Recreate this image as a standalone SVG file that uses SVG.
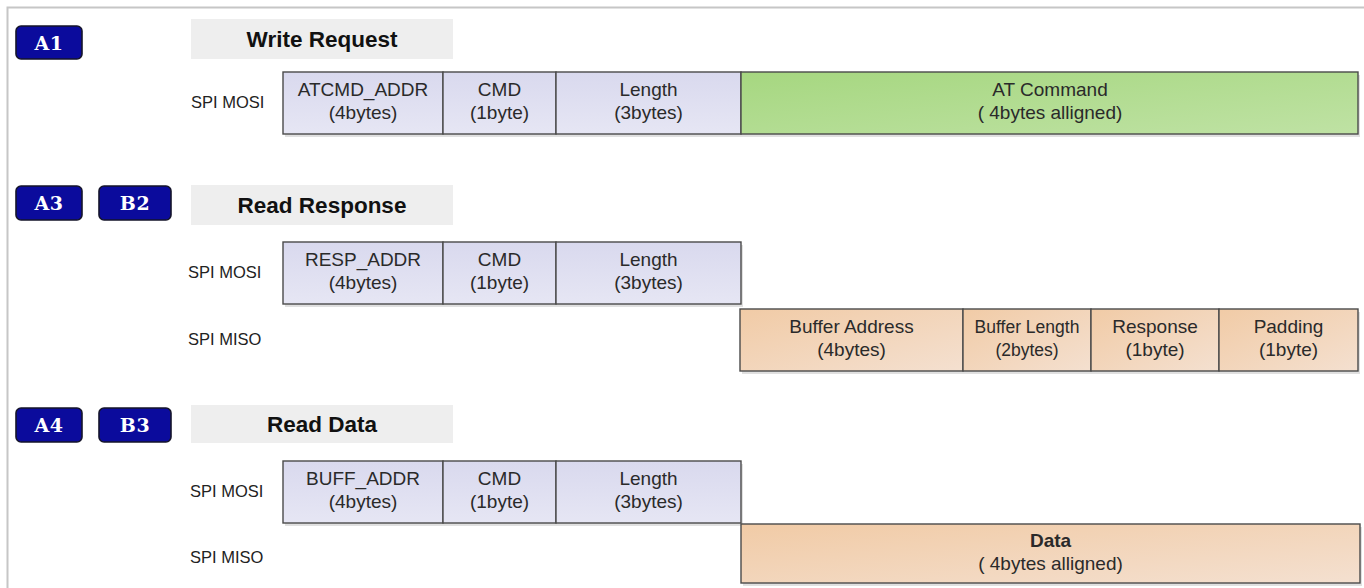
<svg xmlns="http://www.w3.org/2000/svg" width="1364" height="588" viewBox="0 0 1364 588">
  <style>
    .frame { stroke: #c6c6c6; stroke-width: 2; fill: none; }
    .badge rect { fill: #0b0b9c; stroke: #15152a; stroke-width: 1.6; }
    .badge text { font-family: "DejaVu Serif", "Liberation Serif", serif; font-weight: bold; font-size: 19px; letter-spacing: 0.5px; fill: #ffffff; text-anchor: middle; }
    .title rect { fill: #eeeeee; }
    .title text { font-family: "Liberation Sans", Arial, sans-serif; font-weight: bold; font-size: 22.5px; fill: #111111; text-anchor: middle; }
    .sig { font-family: "Liberation Sans", Arial, sans-serif; font-size: 16.5px; fill: #222222; }
    .field rect.box { stroke: #4a4a4a; stroke-width: 1.4; }
    .field rect.shadow { fill: #000000; opacity: 0.12; }
    .field text { font-family: "Liberation Sans", Arial, sans-serif; font-size: 19px; fill: #2a2a2a; text-anchor: middle; }
    .mosi { fill: url(#gMosi); }
    .green { fill: url(#gGreen); }
    .peach { fill: url(#gPeach); }
  </style>
  <defs>
    <linearGradient id="gMosi" x1="0" y1="0" x2="0" y2="1">
      <stop offset="0" stop-color="#d9d9ee"/>
      <stop offset="1" stop-color="#e6e6f4"/>
    </linearGradient>
    <linearGradient id="gGreen" x1="0" y1="0" x2="1" y2="1">
      <stop offset="0" stop-color="#a6d780"/>
      <stop offset="1" stop-color="#bfe2a4"/>
    </linearGradient>
    <linearGradient id="gPeach" x1="0" y1="0" x2="1" y2="1">
      <stop offset="0" stop-color="#f1cba6"/>
      <stop offset="1" stop-color="#f4e0d0"/>
    </linearGradient>
  </defs>

  <rect x="0" y="0" width="1364" height="588" fill="#ffffff"/>
  <!-- page frame: top and left edges -->
  <path class="frame" d="M7.5 588 V7.5 H1364"/>

  <!-- ===== Write Request ===== -->
  <g id="badge-a1" class="badge"><rect x="16" y="26" width="66" height="33" rx="5"/><text x="49" y="49.5">A1</text></g>
  <g id="title-write-request" class="title"><rect x="191" y="19" width="262" height="40"/><text x="322" y="47">Write Request</text></g>
  <text class="sig" x="191" y="108">SPI MOSI</text>
  <g id="wr-atcmd-addr" class="field"><rect class="shadow" x="285" y="75" width="160" height="62"/><rect class="box mosi" x="283" y="72" width="160" height="62"/><text x="363" y="96">ATCMD_ADDR</text><text x="363" y="119">(4bytes)</text></g>
  <g id="wr-cmd" class="field"><rect class="shadow" x="445" y="75" width="113" height="62"/><rect class="box mosi" x="443" y="72" width="113" height="62"/><text x="499.5" y="96">CMD</text><text x="499.5" y="119">(1byte)</text></g>
  <g id="wr-length" class="field"><rect class="shadow" x="558" y="75" width="185" height="62"/><rect class="box mosi" x="556" y="72" width="185" height="62"/><text x="648.5" y="96">Length</text><text x="648.5" y="119">(3bytes)</text></g>
  <g id="wr-at-command" class="field"><rect class="shadow" x="743" y="75" width="617" height="62"/><rect class="box green" x="741" y="72" width="617" height="62"/><text x="1050" y="96">AT Command</text><text x="1050" y="119">( 4bytes alligned)</text></g>

  <!-- ===== Read Response ===== -->
  <g id="badge-a3" class="badge"><rect x="16" y="186" width="66" height="34" rx="5"/><text x="49" y="210">A3</text></g>
  <g id="badge-b2" class="badge"><rect x="99" y="186" width="72" height="34" rx="5"/><text x="135" y="210">B2</text></g>
  <g id="title-read-response" class="title"><rect x="191" y="185" width="262" height="40"/><text x="322" y="213">Read Response</text></g>
  <text class="sig" x="188" y="278">SPI MOSI</text>
  <text class="sig" x="188" y="345">SPI MISO</text>
  <g id="rr-resp-addr" class="field"><rect class="shadow" x="285" y="245" width="160" height="62"/><rect class="box mosi" x="283" y="242" width="160" height="62"/><text x="363" y="266">RESP_ADDR</text><text x="363" y="289">(4bytes)</text></g>
  <g id="rr-cmd" class="field"><rect class="shadow" x="445" y="245" width="113" height="62"/><rect class="box mosi" x="443" y="242" width="113" height="62"/><text x="499.5" y="266">CMD</text><text x="499.5" y="289">(1byte)</text></g>
  <g id="rr-length" class="field"><rect class="shadow" x="558" y="245" width="185" height="62"/><rect class="box mosi" x="556" y="242" width="185" height="62"/><text x="648.5" y="266">Length</text><text x="648.5" y="289">(3bytes)</text></g>
  <g id="rr-buffer-address" class="field"><rect class="shadow" x="742" y="312" width="223" height="62"/><rect class="box peach" x="740" y="309" width="223" height="62"/><text x="851.5" y="333">Buffer Address</text><text x="851.5" y="356">(4bytes)</text></g>
  <g id="rr-buffer-length" class="field"><rect class="shadow" x="965" y="312" width="128" height="62"/><rect class="box peach" x="963" y="309" width="128" height="62"/><text x="1027" y="333" style="font-size:17.5px">Buffer Length</text><text x="1027" y="356" style="font-size:17.5px">(2bytes)</text></g>
  <g id="rr-response" class="field"><rect class="shadow" x="1093" y="312" width="128" height="62"/><rect class="box peach" x="1091" y="309" width="128" height="62"/><text x="1155" y="333">Response</text><text x="1155" y="356">(1byte)</text></g>
  <g id="rr-padding" class="field"><rect class="shadow" x="1221" y="312" width="139" height="62"/><rect class="box peach" x="1219" y="309" width="139" height="62"/><text x="1288.5" y="333">Padding</text><text x="1288.5" y="356">(1byte)</text></g>

  <!-- ===== Read Data ===== -->
  <g id="badge-a4" class="badge"><rect x="16" y="408" width="66" height="34" rx="5"/><text x="49" y="432">A4</text></g>
  <g id="badge-b3" class="badge"><rect x="99" y="408" width="72" height="34" rx="5"/><text x="135" y="432">B3</text></g>
  <g id="title-read-data" class="title"><rect x="191" y="405" width="262" height="38"/><text x="322" y="432">Read Data</text></g>
  <text class="sig" x="190" y="497">SPI MOSI</text>
  <text class="sig" x="190" y="563">SPI MISO</text>
  <g id="rd-buff-addr" class="field"><rect class="shadow" x="285" y="464" width="160" height="62"/><rect class="box mosi" x="283" y="461" width="160" height="62"/><text x="363" y="485">BUFF_ADDR</text><text x="363" y="508">(4bytes)</text></g>
  <g id="rd-cmd" class="field"><rect class="shadow" x="445" y="464" width="113" height="62"/><rect class="box mosi" x="443" y="461" width="113" height="62"/><text x="499.5" y="485">CMD</text><text x="499.5" y="508">(1byte)</text></g>
  <g id="rd-length" class="field"><rect class="shadow" x="558" y="464" width="185" height="62"/><rect class="box mosi" x="556" y="461" width="185" height="62"/><text x="648.5" y="485">Length</text><text x="648.5" y="508">(3bytes)</text></g>
  <g id="rd-data" class="field"><rect class="shadow" x="743" y="527" width="619" height="59"/><rect class="box peach" x="741" y="524" width="619" height="59"/><text x="1050.5" y="547" style="font-weight:bold">Data</text><text x="1050.5" y="570">( 4bytes alligned)</text></g>
</svg>
